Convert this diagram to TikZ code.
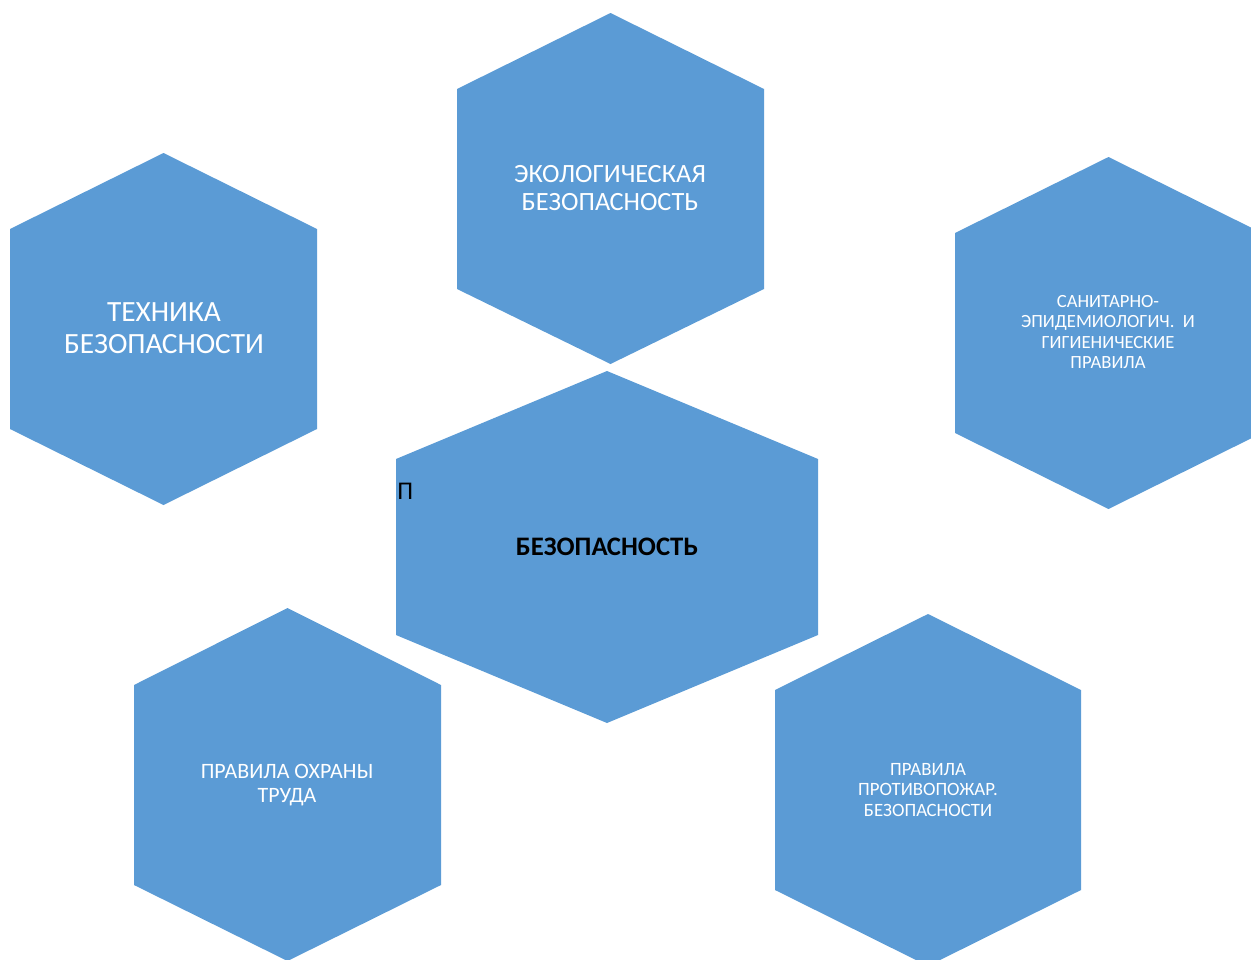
\documentclass[tikz,border=0pt]{standalone}
\usepackage{fontspec}
\setmainfont{Carlito}
\usepackage{xcolor}
\definecolor{cellblue}{HTML}{5B9BD5}
\tikzset{
  cellfill/.style={fill=cellblue},
  celltext/.style={text=white, align=center, inner sep=0pt}
}
\newcommand{\hexcell}[6]{%
  \fill[cellfill] ({(#1+#2)/2},#3) -- (#2,#4) -- (#2,#5) -- ({(#1+#2)/2},#6)
    -- (#1,#5) -- (#1,#4) -- cycle;}

\begin{document}
\begin{tikzpicture}[x=0.02cm,y=-0.02cm]
\useasboundingbox (0,0) rectangle (1251,960);
\hexcell{10}{317}{153}{229}{429}{505}
\hexcell{457}{764}{13}{89}{289}{364}
\hexcell{955}{1262}{157}{233}{433}{509}
\hexcell{396}{818}{371}{459}{635}{723}
\hexcell{134}{441}{608}{685}{885}{961}
\hexcell{775}{1081}{614}{690}{890}{966}
\node[celltext, font=\fontsize{16.7}{18.2}\selectfont] (tech) at (164,328) {ТЕХНИКА\\БЕЗОПАСНОСТИ};
\node[celltext, font=\fontsize{15}{16.4}\selectfont] (eco) at (610,188) {ЭКОЛОГИЧЕСКАЯ\\БЕЗОПАСНОСТЬ};
\node[celltext, font=\fontsize{10.6}{11.7}\selectfont] (sanit) at (1108,332) {САНИТАРНО-\\ЭПИДЕМИОЛОГИЧ.~~И\\ГИГИЕНИЧЕСКИЕ\\ПРАВИЛА};
\node[celltext, font=\fontsize{12.5}{13.6}\selectfont] (labour) at (287,785) {ПРАВИЛА ОХРАНЫ\\ТРУДА};
\node[celltext, font=\fontsize{10.7}{11.6}\selectfont] (fire) at (928,790) {ПРАВИЛА\\ПРОТИВОПОЖАР.\\БЕЗОПАСНОСТИ};
\node[inner sep=0pt, font=\fontsize{15.2}{16}\selectfont\bfseries] (safety) at (607,547) {БЕЗОПАСНОСТЬ};
\node[inner sep=0pt, anchor=west, font=\fontsize{14.5}{16}\selectfont] (pe) at (397,491) {П};
\end{tikzpicture}
\end{document}
